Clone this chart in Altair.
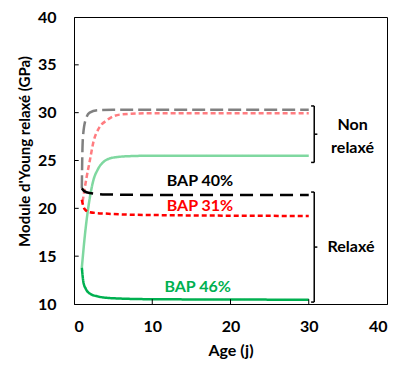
import altair as alt
import pandas as pd

FONT = "Lato"

# ---- data ----
gray_days = [1.0, 1.05, 1.15, 1.5, 2.0, 3.0, 5.0, 10.0, 30.0]
gray_vals = [22.1, 25.0, 27.5, 29.3, 30.0, 30.25, 30.3, 30.3, 30.3]

pink_days = [1.1, 1.6, 2.0, 2.5, 3.2, 4.2, 5.9, 10.0, 30.0]
pink_vals = [20.7, 23.2, 24.9, 27.0, 28.4, 29.2, 29.8, 29.95, 29.95]

lgreen_days = [1.0, 1.5, 2.0, 2.5, 3.0, 3.7, 5.0, 7.0, 10.0, 30.0]
lgreen_vals = [13.8, 18.0, 21.0, 23.0, 24.0, 24.8, 25.3, 25.45, 25.5, 25.5]

black_days = [1.0, 1.3, 2.0, 4.0, 10.0, 30.0]
black_vals = [22.1, 21.8, 21.6, 21.45, 21.4, 21.4]

red_days = [1.0, 1.2, 1.5, 2.0, 4.0, 10.0, 30.0]
red_vals = [20.9, 20.2, 19.8, 19.6, 19.45, 19.3, 19.2]

green_days = [1.0, 1.2, 1.5, 2.0, 3.0, 5.0, 10.0, 30.0]
green_vals = [13.8, 12.3, 11.6, 11.1, 10.8, 10.6, 10.5, 10.45]

series_names = ["nr40", "nr31", "nr46", "r40", "r31", "r46"]
series_colors = ["#808080", "#ff7c80", "#7fd8a0", "#000000", "#ff0000", "#00b050"]
series_dash = [[13, 5], [5, 3], [1, 0], [13, 7], [5, 3], [1, 0]]

x_ticks = [0, 10, 20, 30, 40]
y_ticks = [10, 15, 20, 25, 30, 35, 40]

label_texts = ["BAP 40%", "BAP 31%", "BAP 46%", "Non", "relaxé", "Relaxé"]
label_x = [16.1, 16.1, 15.8, 35.6, 35.6, 35.4]
label_y = [22.9, 20.25, 11.75, 28.7, 26.3, 16.0]
label_colors = ["#000000", "#ff0000", "#00b050", "#000000", "#000000", "#000000"]

bracket_top = [30.7, 21.7]
bracket_bottom = [24.8, 10.2]
bracket_x = 30.7
bracket_serif = 0.4

# ---- build tables ----
rows = []
for name, d, v in [
    ("nr40", gray_days, gray_vals),
    ("nr31", pink_days, pink_vals),
    ("nr46", lgreen_days, lgreen_vals),
    ("r40", black_days, black_vals),
    ("r31", red_days, red_vals),
    ("r46", green_days, green_vals),
]:
    for a, b in zip(d, v):
        rows.append({"series": name, "day": a, "val": b})
df = pd.DataFrame(rows)

xs = alt.Scale(domain=[0, 40], nice=False)
ys = alt.Scale(domain=[10, 40], nice=False)

lines = alt.Chart(df).mark_line(strokeWidth=2.5, interpolate="monotone").encode(
    x=alt.X("day:Q", scale=xs,
            axis=alt.Axis(values=x_ticks, title="Age (j)", ticks=False, grid=False,
                          labelPadding=14, titlePadding=8)),
    y=alt.Y("val:Q", scale=ys,
            axis=alt.Axis(values=y_ticks, title="Module d'Young relaxé (GPa)", ticks=False,
                          grid=False, labelPadding=18, titlePadding=5,
                          titleFontSize=15, titleY=134)),
    color=alt.Color("series:N", scale=alt.Scale(domain=series_names, range=series_colors), legend=None),
    strokeDash=alt.StrokeDash("series:N", scale=alt.Scale(domain=series_names, range=series_dash), legend=None),
    detail="series:N",
)

# inward ticks
xt = pd.DataFrame({"t": x_ticks[1:-1]})
xtick = alt.Chart(xt).mark_rule(color="black", strokeWidth=1).encode(
    x="t:Q", y=alt.datum(10), y2=alt.datum(10.5))
yt = pd.DataFrame({"t": y_ticks[1:-1]})
ytick = alt.Chart(yt).mark_rule(color="black", strokeWidth=1).encode(
    y="t:Q", x=alt.datum(0), x2=alt.datum(0.6))

# brackets
br_v = pd.DataFrame({"x": [bracket_x] * 2, "y1": bracket_top, "y2": bracket_bottom})
br_h = pd.DataFrame({
    "x1": [bracket_x - bracket_serif] * 4 + [bracket_x] * 2,
    "x2": [bracket_x] * 4 + [bracket_x + bracket_serif] * 2,
    "y": bracket_top + bracket_bottom + [(t + b) / 2 for t, b in zip(bracket_top, bracket_bottom)],
})
bv = alt.Chart(br_v).mark_rule(color="black", strokeWidth=1.5).encode(
    x="x:Q", y="y1:Q", y2="y2:Q")
bh = alt.Chart(br_h).mark_rule(color="black", strokeWidth=1.5).encode(
    x="x1:Q", x2="x2:Q", y="y:Q")

lab = pd.DataFrame({"text": label_texts, "x": label_x, "y": label_y, "c": label_colors})
texts = alt.Chart(lab).mark_text(font=FONT, fontWeight="bold", fontSize=16, align="center",
                                 baseline="middle").encode(
    x="x:Q", y="y:Q", text="text:N", color=alt.Color("c:N", scale=None))

chart = alt.layer(lines, xtick, ytick, bv, bh, texts).properties(
    width=313, height=287,
    background="white",
    autosize=alt.AutoSizeParams(type="none"),
    padding={"left": 74, "top": 17, "right": 11, "bottom": 61},
).configure_view(stroke="black", strokeWidth=1).configure_axis(
    labelFont=FONT, titleFont=FONT, labelFontWeight="bold", titleFontWeight="bold",
    labelFontSize=16, titleFontSize=16, labelColor="black", titleColor="black",
    domainColor="black", domainWidth=1,
)

chart.save("out.html", embed_options={"renderer": "svg", "actions": False})
